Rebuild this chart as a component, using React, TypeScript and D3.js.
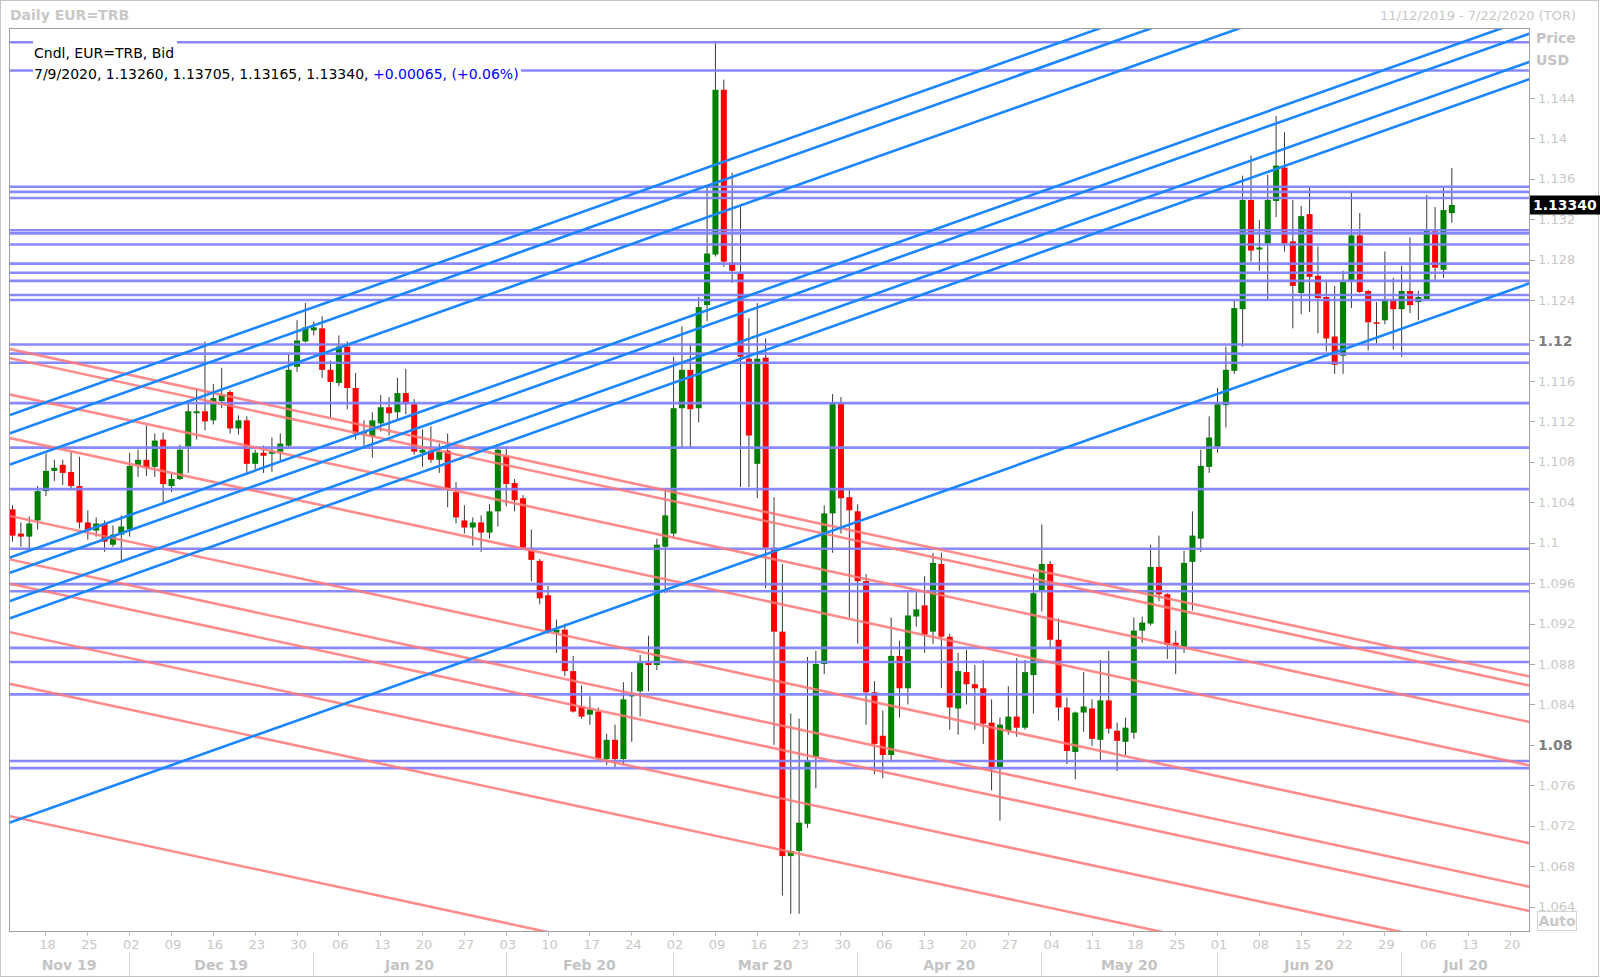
import React from "react";
import * as d3 from "d3";

const W = 1600;
const H = 978;
const PL = 9;
const PR = 1530;
const PT = 28;
const PB = 931;

// daily bars, one per weekday from 11/12/2019 to 7/9/2020: [open, high, low, close]
const candles: [number, number, number, number][] = [
  [1.1033, 1.1037, 1.1001, 1.1007], [1.1009, 1.102, 1.0996, 1.1006], [1.1006, 1.1026, 1.0993, 1.1019], [1.1022, 1.1056, 1.1013, 1.1051],
  [1.1051, 1.1088, 1.1046, 1.1071], [1.1071, 1.1082, 1.1061, 1.1074], [1.1077, 1.1082, 1.1057, 1.1069], [1.107, 1.109, 1.1052, 1.1056], [1.1056, 1.1085, 1.1014, 1.102],
  [1.102, 1.1032, 1.1003, 1.1012], [1.1012, 1.1025, 1.1006, 1.1019], [1.1019, 1.1022, 1.0991, 1.1001], [1.0998, 1.1017, 1.0996, 1.1008], [1.1008, 1.1027, 1.0981, 1.1016],
  [1.1013, 1.1089, 1.1006, 1.1076], [1.1077, 1.1092, 1.1065, 1.1082], [1.1082, 1.1116, 1.1066, 1.1074], [1.1075, 1.1108, 1.1065, 1.1101], [1.1102, 1.1109, 1.1039, 1.1058],
  [1.1056, 1.1069, 1.105, 1.1063], [1.1063, 1.1097, 1.1062, 1.1092], [1.1095, 1.1141, 1.1069, 1.113], [1.1128, 1.1153, 1.1102, 1.113], [1.113, 1.1199, 1.1111, 1.112],
  [1.1121, 1.1157, 1.1117, 1.1143], [1.114, 1.1173, 1.1133, 1.1146], [1.1149, 1.1151, 1.1108, 1.1113], [1.1113, 1.1126, 1.1107, 1.1121], [1.1121, 1.1125, 1.1068, 1.1078],
  [1.1078, 1.1092, 1.1071, 1.1089], [1.1089, 1.1096, 1.1069, 1.1086], [1.1088, 1.1104, 1.107, 1.109], [1.109, 1.1108, 1.108, 1.1098], [1.1096, 1.1186, 1.1093, 1.1171],
  [1.1174, 1.122, 1.1169, 1.12], [1.1199, 1.1237, 1.1198, 1.1213], [1.121, 1.1219, 1.1205, 1.1213], [1.1212, 1.1224, 1.1163, 1.1171], [1.1171, 1.118, 1.1124, 1.1159],
  [1.1158, 1.1205, 1.1155, 1.1194], [1.1194, 1.1199, 1.1132, 1.1153], [1.1153, 1.1168, 1.1102, 1.1108], [1.1108, 1.1121, 1.1095, 1.111], [1.1105, 1.1129, 1.1084, 1.1121],
  [1.1118, 1.1146, 1.111, 1.1134], [1.1134, 1.1144, 1.1106, 1.1128], [1.1129, 1.1163, 1.1121, 1.1148], [1.1148, 1.1172, 1.1127, 1.1137], [1.1137, 1.1142, 1.1087, 1.109],
  [1.1089, 1.1112, 1.1075, 1.1092], [1.1091, 1.1115, 1.1079, 1.1082], [1.1082, 1.1098, 1.1069, 1.109], [1.1091, 1.1108, 1.1035, 1.1054], [1.105, 1.106, 1.1019, 1.1025],
  [1.1022, 1.1037, 1.1009, 1.1015], [1.1015, 1.1025, 1.0997, 1.102], [1.102, 1.1027, 1.0991, 1.101], [1.101, 1.1038, 1.1004, 1.1031], [1.1031, 1.1094, 1.1016, 1.1092],
  [1.1086, 1.1095, 1.1036, 1.1058], [1.1059, 1.1063, 1.1031, 1.1042], [1.1044, 1.1047, 1.0994, 1.0995], [1.0992, 1.1013, 1.0962, 1.0983], [1.0982, 1.0984, 1.0939, 1.0945],
  [1.0948, 1.0957, 1.091, 1.0912], [1.0911, 1.0924, 1.0891, 1.0914], [1.0914, 1.092, 1.0868, 1.0873], [1.0873, 1.0888, 1.0832, 1.0833], [1.0838, 1.0859, 1.0826, 1.0828],
  [1.083, 1.0848, 1.082, 1.0835], [1.0833, 1.0837, 1.0785, 1.0787], [1.0786, 1.0811, 1.078, 1.0805], [1.0805, 1.082, 1.0778, 1.0786], [1.0786, 1.0862, 1.078, 1.0845],
  [1.0848, 1.0872, 1.0803, 1.0851], [1.0853, 1.0889, 1.0828, 1.0881], [1.0881, 1.0908, 1.0853, 1.0879], [1.0879, 1.1004, 1.0874, 1.0998], [1.0996, 1.1052, 1.095, 1.1027],
  [1.1009, 1.1184, 1.1004, 1.1133], [1.1133, 1.1214, 1.1093, 1.1171], [1.1171, 1.1196, 1.1093, 1.1132], [1.1133, 1.1243, 1.1119, 1.1233], [1.1235, 1.1352, 1.1219, 1.1286],
  [1.1285, 1.1494, 1.1283, 1.1448], [1.1448, 1.1458, 1.1273, 1.1278], [1.1277, 1.1366, 1.1257, 1.1269], [1.1266, 1.1332, 1.1055, 1.1184], [1.1182, 1.1222, 1.1055, 1.1106],
  [1.1078, 1.1237, 1.1044, 1.1182], [1.1183, 1.1202, 1.0955, 1.0995], [1.0995, 1.1045, 1.08, 1.0912], [1.0912, 1.0979, 1.0651, 1.069], [1.069, 1.0831, 1.0633, 1.0695],
  [1.0695, 1.0826, 1.0633, 1.0723], [1.0722, 1.0887, 1.0718, 1.0785], [1.0788, 1.0893, 1.0757, 1.088], [1.088, 1.1037, 1.087, 1.1029], [1.1029, 1.1147, 1.099, 1.1138],
  [1.1138, 1.1144, 1.1009, 1.1044], [1.1045, 1.1052, 1.0926, 1.1032], [1.1031, 1.1038, 1.09, 1.0962], [1.0962, 1.0969, 1.082, 1.0852], [1.0852, 1.0863, 1.0771, 1.0801],
  [1.0809, 1.0834, 1.0767, 1.079], [1.079, 1.0926, 1.0783, 1.0888], [1.0888, 1.0903, 1.0827, 1.0856], [1.0856, 1.0951, 1.084, 1.0928], [1.0927, 1.0951, 1.0917, 1.0934],
  [1.0938, 1.0967, 1.0891, 1.0909], [1.0912, 1.099, 1.09, 1.098], [1.0979, 1.099, 1.0856, 1.0907], [1.0907, 1.091, 1.0815, 1.0837], [1.0836, 1.0891, 1.081, 1.0873],
  [1.0872, 1.0894, 1.084, 1.086], [1.086, 1.0879, 1.0815, 1.0856], [1.0856, 1.0884, 1.0801, 1.0821], [1.0822, 1.0845, 1.0755, 1.0778], [1.0778, 1.0827, 1.0725, 1.082],
  [1.0814, 1.0858, 1.081, 1.0828], [1.0828, 1.0886, 1.0808, 1.0817], [1.0817, 1.0884, 1.0815, 1.0872], [1.0869, 1.0969, 1.0831, 1.095], [1.0953, 1.1018, 1.0932, 1.0979],
  [1.0979, 1.0982, 1.0895, 1.0904], [1.0904, 1.0925, 1.0824, 1.0837], [1.0837, 1.0847, 1.0781, 1.0794], [1.0793, 1.0833, 1.0766, 1.0832], [1.0832, 1.0872, 1.0813, 1.0838],
  [1.0836, 1.0845, 1.0799, 1.0806], [1.0805, 1.0884, 1.0785, 1.0844], [1.0844, 1.0893, 1.0811, 1.0816], [1.0814, 1.0822, 1.0774, 1.0804], [1.0803, 1.0827, 1.079, 1.0817],
  [1.0812, 1.0926, 1.0806, 1.0913], [1.0913, 1.0927, 1.0901, 1.0921], [1.092, 1.0998, 1.0918, 1.0976], [1.0976, 1.1007, 1.0942, 1.0949], [1.0949, 1.095, 1.0885, 1.0899],
  [1.0901, 1.0913, 1.087, 1.0898], [1.0897, 1.0992, 1.0891, 1.098], [1.0981, 1.1031, 1.0933, 1.1007], [1.1004, 1.1092, 1.0991, 1.1076], [1.1075, 1.1125, 1.1069, 1.1104],
  [1.1095, 1.1153, 1.1089, 1.1137], [1.1136, 1.1194, 1.1114, 1.1171], [1.117, 1.124, 1.1167, 1.1232], [1.1231, 1.1363, 1.1194, 1.1339], [1.1339, 1.1383, 1.1278, 1.1289],
  [1.129, 1.1319, 1.1269, 1.1292], [1.1296, 1.1364, 1.124, 1.1339], [1.1338, 1.1422, 1.1322, 1.1373], [1.1371, 1.1406, 1.1288, 1.1296], [1.1298, 1.1339, 1.1212, 1.1254],
  [1.1247, 1.1333, 1.1226, 1.1323], [1.1325, 1.1351, 1.1228, 1.1263], [1.1264, 1.1293, 1.1207, 1.1242], [1.1243, 1.126, 1.1189, 1.1202], [1.1204, 1.1254, 1.1167, 1.1176],
  [1.1185, 1.1269, 1.1167, 1.1258], [1.1259, 1.1348, 1.1232, 1.1304], [1.1304, 1.1326, 1.1247, 1.1248], [1.1249, 1.125, 1.119, 1.1218], [1.1218, 1.1238, 1.1197, 1.1217],
  [1.122, 1.1288, 1.1216, 1.1241], [1.1241, 1.1262, 1.1191, 1.1231], [1.1231, 1.1274, 1.1184, 1.1249], [1.1249, 1.1302, 1.1227, 1.1235], [1.1238, 1.1249, 1.122, 1.1243],
  [1.1241, 1.1344, 1.1241, 1.1309], [1.1308, 1.1332, 1.126, 1.1272], [1.127, 1.1351, 1.1262, 1.1329], [1.1326, 1.13705, 1.13165, 1.1334],
];

// horizontal support / resistance levels
const hLevels = [
  1.1495, 1.1467, 1.1352, 1.1347, 1.1341, 1.1309, 1.1306, 1.1295, 1.1276, 1.1267, 1.1259, 1.1245, 1.124,
  1.1196, 1.1187, 1.1178, 1.1138, 1.1094, 1.1053, 1.0994, 1.0959, 1.0952, 1.0896, 1.0882, 1.085, 1.0784, 1.0777,
];

// trend lines: price at first bar, change per bar
const blueStarts = [1.1127, 1.1109, 1.1078, 1.0986, 1.0971, 1.0943, 1.0926, 1.0724];
const blueSlope = 0.0002937;
const redStarts = [1.1191, 1.1182, 1.1146, 1.1103, 1.1026, 1.0983, 1.0959, 1.0911, 1.086, 1.0729];
const redSlope = -0.0001783;

const priceTicks = [
  1.064, 1.068, 1.072, 1.076, 1.08, 1.084, 1.088, 1.092, 1.096, 1.1, 1.104, 1.108, 1.112,
  1.116, 1.12, 1.124, 1.128, 1.132, 1.136, 1.14, 1.144,
];
const boldTicks = [1.08, 1.12];
const lastPrice = 1.1334;

const FONT = "DejaVu Sans, Verdana, sans-serif";

// weekday slots from first bar to end of range
const days = d3
  .timeDay.range(new Date(2019, 10, 12), new Date(2020, 6, 23))
  .filter((d) => d.getDay() !== 0 && d.getDay() !== 6);

export default function App() {
  const x = d3.scaleLinear().domain([-0.36, 181.4]).range([PL, PR]);
  const y = d3.scaleLinear().domain([1.06159, 1.15091]).range([PB, PT]);
  const fmtDay = d3.timeFormat("%d");
  const fmtMonth = d3.timeFormat("%b %y");

  const mondays = days.map((d, i) => ({ d, i })).filter((o) => o.d.getDay() === 1);

  const months: { label: string; first: number }[] = [];
  days.forEach((d, i) => {
    const lbl = fmtMonth(d);
    if (!months.length || months[months.length - 1].label !== lbl) months.push({ label: lbl, first: i });
  });

  const bodyW = 6;
  const i0 = -2;
  const i1 = 185;

  return (
    <svg width={W} height={H} style={{ position: "absolute", left: 0, top: 0, display: "block", background: "#fff" }} fontFamily={FONT}>
      <defs>
        <clipPath id="plot">
          <rect x={PL} y={PT} width={PR - PL} height={PB - PT} />
        </clipPath>
      </defs>
      <rect x={0.5} y={0.5} width={W - 2} height={H - 2} fill="#fff" stroke="#c4c4c4" />
      <text x={10} y={20} fontSize={14} fontWeight="bold" fill="#c8c8c8">Daily EUR=TRB</text>
      <text x={1576} y={20} fontSize={13} textAnchor="end" fill="#c8c8c8">11/12/2019 - 7/22/2020 (TOR)</text>

      <g clipPath="url(#plot)">
        {candles.map(([o, h, l, c], i) => {
          const up = c >= o;
          const top = y(Math.max(o, c));
          const bot = y(Math.min(o, c));
          return (
            <g key={i}>
              <line x1={x(i) + 0.5} x2={x(i) + 0.5} y1={y(h)} y2={y(l)} stroke="#3a3a3a" strokeWidth={1} />
              <rect x={x(i) - bodyW / 2 + 0.5} y={top} width={bodyW} height={Math.max(1.5, bot - top)} fill={up ? "#008000" : "#ff0000"} />
            </g>
          );
        })}
        {hLevels.map((p, k) => (
          <line key={"h" + k} x1={PL} x2={PR} y1={y(p)} y2={y(p)} stroke="#7f7fff" strokeWidth={2.6} strokeOpacity={0.92} />
        ))}
        {redStarts.map((p, k) => (
          <line key={"r" + k} x1={x(i0)} x2={x(i1)} y1={y(p + redSlope * i0)} y2={y(p + redSlope * i1)} stroke="#ff7878" strokeWidth={2.6} strokeOpacity={0.85} />
        ))}
        {blueStarts.map((p, k) => (
          <line key={"b" + k} x1={x(i0)} x2={x(i1)} y1={y(p + blueSlope * i0)} y2={y(p + blueSlope * i1)} stroke="#1a86ff" strokeWidth={2.6} />
        ))}
      </g>

      {/* legend */}
      <rect x={33} y={40} width={144} height={23} fill="#fff" />
      <rect x={33} y={63} width={488} height={21} fill="#fff" />
      <text x={34} y={58} fontSize={14} fill="#000">Cndl, EUR=TRB, Bid</text>
      <text x={34} y={79} fontSize={14} fill="#000">
        7/9/2020, 1.13260, 1.13705, 1.13165, 1.13340, <tspan fill="#0000ff">+0.00065, (+0.06%)</tspan>
      </text>

      {/* frame */}
      <rect x={PL + 0.5} y={PT + 0.5} width={PR - PL - 1} height={PB - PT} fill="none" stroke="#a0a0a0" />

      {/* price axis */}
      <text x={1536} y={43} fontSize={14} fontWeight="bold" fill="#c4c4c4">Price</text>
      <text x={1536} y={65} fontSize={14} fontWeight="bold" fill="#c4c4c4">USD</text>
      {priceTicks.map((p) => {
        const bold = boldTicks.some((b) => Math.abs(b - p) < 1e-6);
        return (
          <g key={p}>
            <line x1={PR} x2={PR + 5} y1={Math.round(y(p)) + 0.5} y2={Math.round(y(p)) + 0.5} stroke="#a8a8a8" />
            <text x={1538} y={y(p)} dy="0.36em" fontSize={bold ? 14 : 13} fontWeight={bold ? "bold" : "normal"} fill={bold ? "#7f7f7f" : "#c8c8c8"}>
              {String(+p.toFixed(3))}
            </text>
          </g>
        );
      })}
      <rect x={PR} y={y(lastPrice) - 9.5} width={70} height={19} fill="#000" />
      <text x={1533} y={y(lastPrice)} dy="0.36em" fontSize={14} fontWeight="bold" fill="#fff">{lastPrice.toFixed(5)}</text>
      <rect x={1537.5} y={911.5} width={39} height={19} fill="#fff" stroke="#d4d4d4" />
      <text x={1557} y={926} fontSize={14} fontWeight="bold" textAnchor="middle" fill="#c8c8c8">Auto</text>

      {/* date axis */}
      {mondays.map(({ d, i }) => (
        <g key={i}>
          <line x1={Math.round(x(i)) + 0.5} x2={Math.round(x(i)) + 0.5} y1={PB} y2={PB + 5} stroke="#c0c0c0" />
          <text x={x(i) + 2} y={949} fontSize={13} textAnchor="middle" fill="#c8c8c8">{fmtDay(d)}</text>
        </g>
      ))}
      {months.map((m, k) => {
        const left = k === 0 ? PL : x(m.first);
        const right = k === months.length - 1 ? PR : x(months[k + 1].first);
        return (
          <g key={m.label}>
            {k > 0 && <line x1={Math.round(left) + 0.5} x2={Math.round(left) + 0.5} y1={952} y2={976} stroke="#d4d4d4" />}
            <text x={(left + right) / 2} y={970} fontSize={14} fontWeight="bold" textAnchor="middle" fill="#c4c4c4">{m.label}</text>
          </g>
        );
      })}
    </svg>
  );
}
